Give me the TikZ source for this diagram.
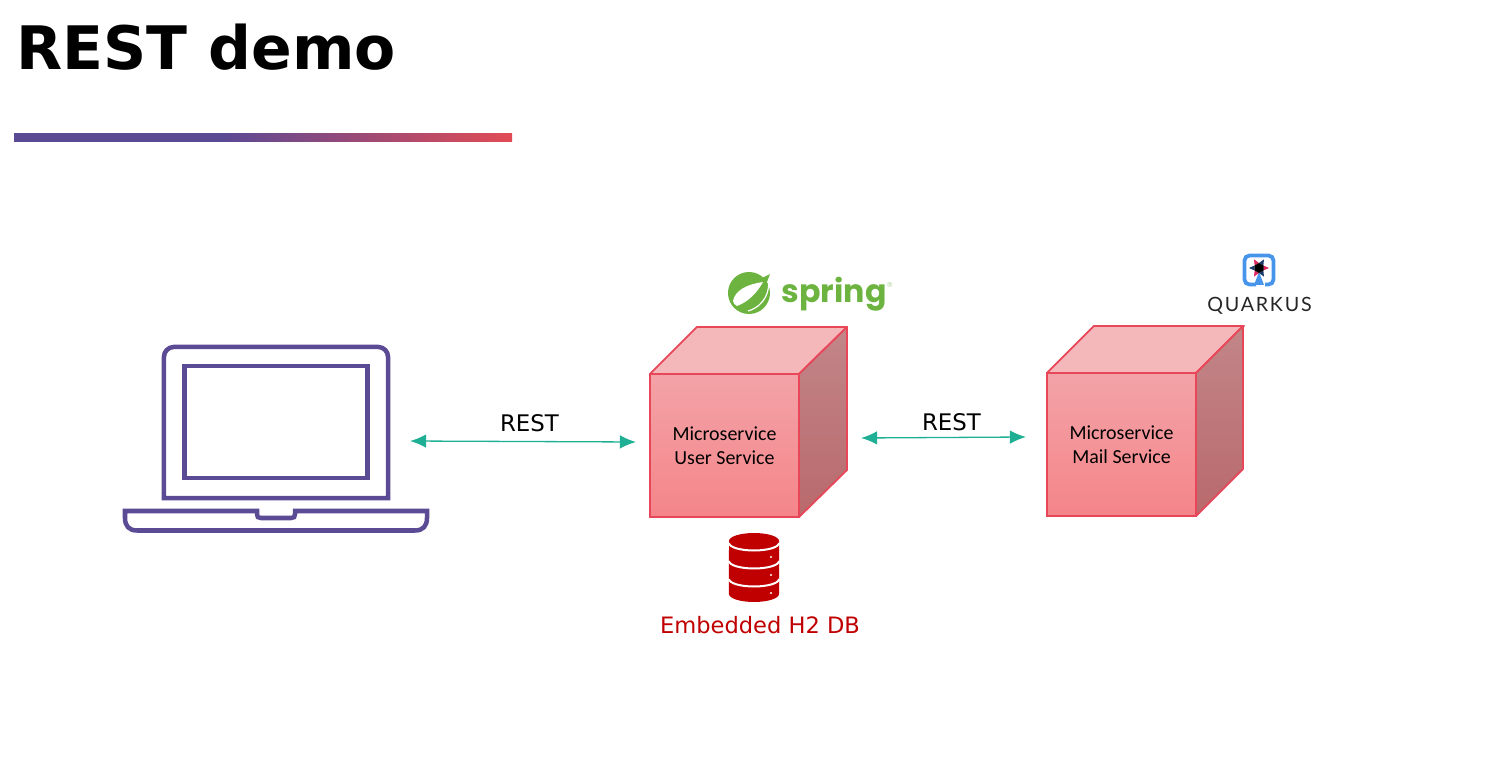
\documentclass[tikz,border=0pt]{standalone}
\usepackage{fontspec}
\setmainfont{DejaVu Sans}
\newfontfamily\boxfont{Carlito}
\newfontfamily\logofont{Poppins}
\newfontfamily\quarkfont[LetterSpace=9]{Lato}
\usetikzlibrary{arrows.meta}
\definecolor{barpurple}{HTML}{5B4A94}
\definecolor{barred}{HTML}{E24B55}
\definecolor{arrowgreen}{HTML}{1FAF94}
\definecolor{cubeline}{HTML}{E8475A}
\definecolor{dbred}{HTML}{C00000}
\definecolor{springgreen}{HTML}{6DB33F}
\definecolor{quarkblue}{HTML}{4695EB}
\definecolor{quarkred}{HTML}{E0245E}
\definecolor{quarkdark}{HTML}{1B3A6B}
\definecolor{cubetop}{HTML}{F3A3A8}
\definecolor{cubebottom}{HTML}{F48589}
\definecolor{cubelidfill}{HTML}{F5B8BA}
\definecolor{cubesidetop}{HTML}{C28689}
\definecolor{cubesidebottom}{HTML}{B9696C}
\pgfdeclarehorizontalshading{barshade}{100bp}{color(0bp)=(barpurple); color(46bp)=(barpurple); color(75bp)=(barred); color(100bp)=(barred)}
\tikzset{
  cubefront/.style = {rectangle, draw=cubeline, line width=0.18mm, minimum width=1.49cm, minimum height=1.43cm, inner sep=0pt, outer sep=0pt, top color=cubetop, bottom color=cubebottom, align=center, font=\boxfont\fontsize{5.67pt}{6.8pt}\selectfont},
  cubelid/.style = {draw=cubeline, line width=0.18mm, line join=round, fill=cubelidfill},
  cubeside/.style = {draw=cubeline, line width=0.18mm, line join=round, top color=cubesidetop, bottom color=cubesidebottom},
  laptopline/.style = {draw=barpurple, line width=0.45mm},
  biarrow/.style = {draw=arrowgreen, line width=0.13mm, {Latex[length=1.6mm,width=1.35mm]}-{Latex[length=1.6mm,width=1.35mm]}},
  restlabel/.style = {font=\fontsize{6.5pt}{8pt}\selectfont, inner sep=0pt},
  dbband/.style = {draw=white, line width=0.2mm}
}
\begin{document}
\begin{tikzpicture}[x=0.01cm,y=-0.01cm]
\useasboundingbox (0,0) rectangle (1496,776);
% title and bar
\node (title) [anchor=base west, inner sep=0pt, font=\bfseries\fontsize{17.05pt}{20pt}\selectfont] at (16,70) {REST demo};
\shade [shading=barshade] (14,133.5) rectangle (512,142);
% laptop
\node (lid) [rectangle, minimum width=2.24cm, minimum height=1.51cm, inner sep=0pt, outer sep=0pt] at (276,422.5) {};
\node (screen) [rectangle, laptopline, minimum width=1.83cm, minimum height=1.12cm, inner sep=0pt, outer sep=0pt] at (276,422) {};
\draw [laptopline, line join=miter] (lid.south west) [rounded corners=0.1cm] -- (lid.north west) -- (lid.north east) [sharp corners] -- (lid.south east) -- cycle;
\draw [laptopline, line join=miter] (125,511) -- (257,511) -- (257,514) .. controls (257,517) and (258,518) .. (261,518) -- (291,518) .. controls (294,518) and (295,517) .. (295,514) -- (295,511) -- (427,511) -- (427,518) .. controls (427,526) and (423,530.5) .. (415,530.5) -- (137,530.5) .. controls (129,530.5) and (125,526) .. (125,518) -- cycle;
% cubes
\node (userbox) [cubefront] at (724.5,445.5) {Microservice\\User Service};
\draw [cubelid] (userbox.north west) -- ++(47,-47) -- ++(150,0) -- (userbox.north east) -- cycle;
\draw [cubeside] (userbox.north east) -- ++(48,-47) -- ++(0,143) -- (userbox.south east) -- cycle;
\node (mailbox) [cubefront] at (1121.5,444.5) {Microservice\\Mail Service};
\draw [cubelid] (mailbox.north west) -- ++(47,-47) -- ++(150,0) -- (mailbox.north east) -- cycle;
\draw [cubeside] (mailbox.north east) -- ++(47,-47) -- ++(0,143) -- (mailbox.south east) -- cycle;
% connectors
\draw [biarrow] ([xshift=0.22cm,yshift=-0.185cm]lid.east) -- ([xshift=-0.14cm,yshift=0.035cm]userbox.west);
\draw [biarrow] ([xshift=0.62cm,yshift=0.075cm]userbox.east) -- ([xshift=-0.21cm,yshift=0.075cm]mailbox.west);
\node (restleft) [restlabel] at (529.5,423) {REST};
\node (restright) [restlabel] at (951.5,422) {REST};
% database
\fill [dbred] (729,541) arc [start angle=180, end angle=0, x radius=0.25cm, y radius=0.08cm] -- (779,594) arc [start angle=360, end angle=180, x radius=0.25cm, y radius=0.08cm] -- cycle;
\draw [dbband] (729,543) arc [start angle=180, end angle=360, x radius=0.25cm, y radius=0.075cm];
\draw [dbband] (729,561) arc [start angle=180, end angle=360, x radius=0.25cm, y radius=0.075cm];
\draw [dbband] (729,579) arc [start angle=180, end angle=360, x radius=0.25cm, y radius=0.075cm];
\foreach \doty in {557,575,593} \fill [white] (771,\doty) circle (0.012cm);
\node (dblabel) [inner sep=0pt, text=dbred, font=\fontsize{6.42pt}{8pt}\selectfont] at (760,625) {Embedded H2 DB};
% spring logo
\fill [springgreen] (749,293) circle (0.21cm);
\fill [white] (733,301) .. controls (735,290) and (748,284) .. (763,282) .. controls (757,293) and (748,302) .. (737,306) .. controls (735,305) and (733,303) .. (733,301) -- cycle;
\draw [white, line width=0.12mm] (768,277) .. controls (771,290) and (765,306) .. (748,311);
\fill [springgreen] (770,274) -- (767,282) -- (762,278) -- cycle;
\node (springtext) [anchor=base west, inner sep=0pt, text=springgreen, font=\logofont\bfseries\fontsize{9pt}{11pt}\selectfont] at (781,303) {spring};
\node (springmark) [inner sep=0pt, text=springgreen!60, font=\fontsize{2pt}{2pt}\selectfont] at (890,285) {®};
% quarkus logo
\draw [quarkblue, line width=0.38mm, rounded corners=0.05cm] (1256,284.5) -- (1244.5,284.5) -- (1244.5,255.5) -- (1273.5,255.5) -- (1273.5,284.5) -- (1265,284.5);
\fill [quarkblue] (1259,272) -- (1264,285) -- (1254,285) -- cycle;
\foreach \ang/\col in {240/quarkred,300/quarkdark,0/quarkred,60/quarkdark,120/quarkred,180/quarkdark}
  \fill [\col] ([shift={(\ang-30:5)}]1259,268) -- ([shift={(\ang:10)}]1259,268) -- ([shift={(\ang+30:5)}]1259,268) -- cycle;
\fill [black] (1259,263) -- (1263.5,265.5) -- (1263.5,270.5) -- (1259,273) -- (1254.5,270.5) -- (1254.5,265.5) -- cycle;
\node (quarkustext) [inner sep=0pt, text=black!85, font=\quarkfont\fontsize{5.6pt}{7pt}\selectfont] at (1259.5,306) {QUARKUS};
\end{tikzpicture}
\end{document}
